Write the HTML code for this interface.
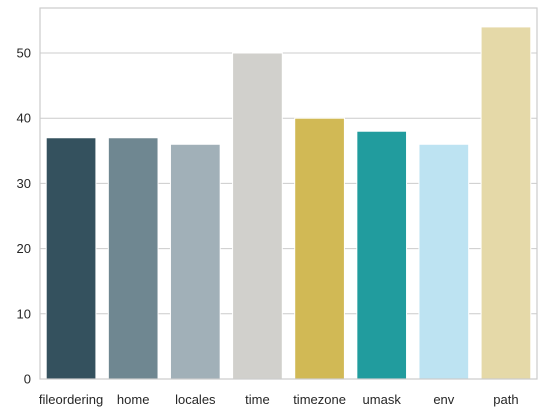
<!DOCTYPE html>
<html><head><meta charset="utf-8"><style>
body{margin:0;background:#fff;}
svg{display:block;font-family:"Liberation Sans",sans-serif;}
</style></head><body>
<svg id="chart" width="546" height="416" viewBox="0 0 546 416"></svg>
<script>
const categories=["fileordering","home","locales","time","timezone","umask","env","path"];
const values=[37,37,36,50,40,38,36,54];
const colors=["#34515e","#6f8791","#a1b0b8","#d1d0cc","#d1b955","#219c9e","#bde3f2","#e5d9a8"];
const yTicks=[0,10,20,30,40,50];
const L=40,R=537,T=8,B=379,yMax=56.9;
const svg=document.getElementById('chart');
const NS='http://www.w3.org/2000/svg';
function y(v){return B-(v/yMax)*(B-T);}
const step=(R-L)/categories.length;
function x(i){return L+step*i;}
function mk(t,a){const e=document.createElementNS(NS,t);for(const k in a)e.setAttribute(k,a[k]);svg.appendChild(e);return e;}
yTicks.forEach(t=>{
 const g=mk('line',{x1:L,x2:R,y1:y(t),y2:y(t),stroke:'#cccccc','stroke-width':1});
 
 
 const tx=mk('text',{x:L-9,y:y(t)+4.5,'text-anchor':'end','font-size':13,fill:'#262626'});
 tx.textContent=t;
 
 
});
categories.forEach((c,i)=>{
 const w=step*0.8;
 const r=mk('rect',{x:x(i)+step*0.1,y:y(values[i]),width:w,height:y(0)-y(values[i]),fill:colors[i],stroke:'#fff','stroke-width':1});
 
 
 const tx=mk('text',{x:x(i)+step/2,y:B+25,'text-anchor':'middle','font-size':13,fill:'#262626'});
 tx.textContent=c;
 
 
});
const f=mk('rect',{x:L,y:T,width:R-L,height:B-T,fill:'none',stroke:'#cccccc','stroke-width':1.2});


</script>
</body></html>
